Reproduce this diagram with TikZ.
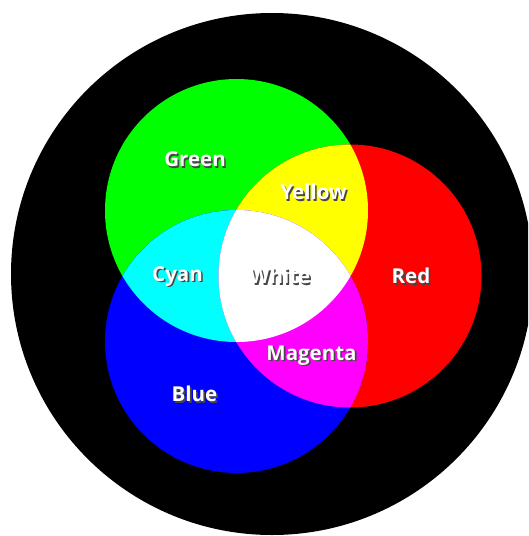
\documentclass[tikz,border=0pt]{standalone}
\usepackage{fontspec}
\setmainfont{Open Sans}
\definecolor{pgreen}{RGB}{0,255,0}
\definecolor{pred}{RGB}{255,0,0}
\definecolor{pblue}{RGB}{0,0,255}
\definecolor{pcyan}{RGB}{0,255,255}
\definecolor{pyellow}{RGB}{255,255,0}
\definecolor{pmagenta}{RGB}{255,0,255}
\definecolor{shade}{RGB}{70,70,70}
\newcommand{\shadowed}[1]{%
  \makebox[0pt][l]{\hspace{1.6pt}\raisebox{-1.6pt}{\textcolor{shade}{#1}}}#1}
\tikzset{
  lbl/.style={text=white, font=\bfseries\fontsize{20.5}{24}\selectfont, inner sep=0pt}
}
\begin{document}
\begin{tikzpicture}[x=1pt,y=-1pt]
\useasboundingbox (0,0) rectangle (528,536);
\begin{scope}
\clip (0,0) rectangle (528,536);
\fill[black] (272,274) circle (261);
\end{scope}
% circles
\coordinate (cg) at (236.5,210.5);
\coordinate (cr) at (350,276);
\coordinate (cb) at (236.5,341.5);
\def\rad{131.5}
\fill[pgreen] (cg) circle (\rad);
\fill[pred] (cr) circle (\rad);
\fill[pblue] (cb) circle (\rad);
\begin{scope}
\clip (cg) circle (\rad);
\fill[pyellow] (cr) circle (\rad);
\fill[pcyan] (cb) circle (\rad);
\end{scope}
\begin{scope}
\clip (cr) circle (\rad);
\fill[pmagenta] (cb) circle (\rad);
\clip (cg) circle (\rad);
\fill[white] (cb) circle (\rad);
\end{scope}
% labels
\node[lbl] (lgreen) at (195,160) {\shadowed{Green}};
\node[lbl] (lyellow) at (313.5,193) {\shadowed{Yellow}};
\node[lbl] (lcyan) at (177.5,277) {\shadowed{Cyan}};
\node[lbl] (lwhite) at (280,277) {\shadowed{White}};
\node[lbl] (lred) at (411,277) {\shadowed{Red}};
\node[lbl] (lmagenta) at (311.5,356) {\shadowed{Magenta}};
\node[lbl] (lblue) at (194.5,395) {\shadowed{Blue}};
\end{tikzpicture}
\end{document}
